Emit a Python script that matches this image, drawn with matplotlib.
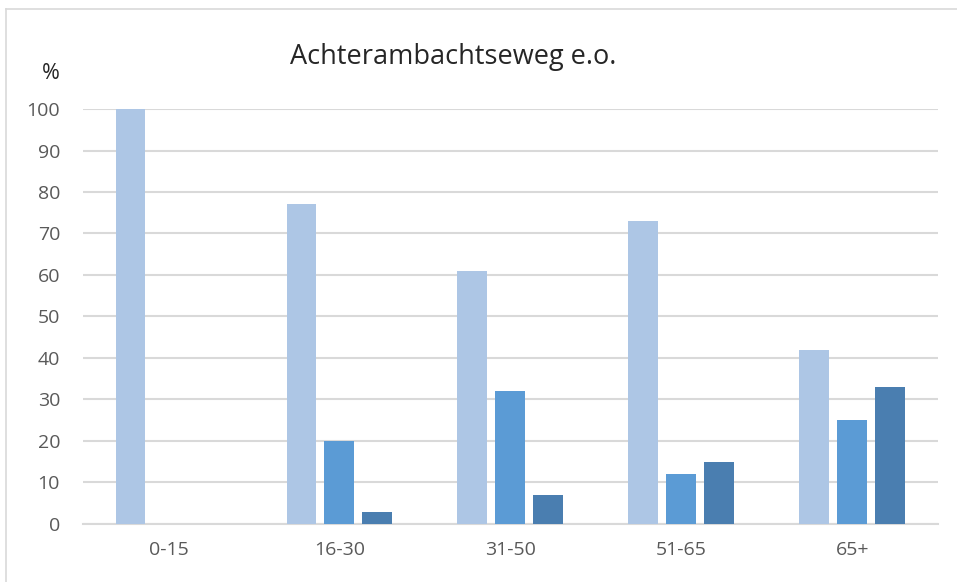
import numpy as np
import matplotlib
matplotlib.use('Agg')
import matplotlib.pyplot as plt
from matplotlib.lines import Line2D

plt.rcParams['font.family'] = ['Open Sans', 'DejaVu Sans']

# data
categories = ['0-15', '16-30', '31-50', '51-65', '65+']
series_a = [100, 77, 61, 73, 42]
series_b = [0, 20, 32, 12, 25]
series_c = [0, 3, 7, 15, 33]
colors = ['#adc6e5', '#5b9bd5', '#4a7eb0']

fig = plt.figure(figsize=(9.57, 5.82), dpi=100)
ax = fig.add_axes([0.0867, 0.0997, 0.8933, 0.713])

x = np.arange(len(categories))
w = 0.175
step = 0.222
for i, (vals, c) in enumerate(zip([series_a, series_b, series_c], colors)):
    ax.bar(x + (i - 1) * step, vals, width=w, color=c, zorder=3)

ax.set_xlim(-0.5, len(categories) - 0.5)
ax.set_ylim(0, 100)
ax.set_yticks(range(0, 101, 10))
ax.set_xticks(x)
ax.set_xticklabels(categories)
ax.yaxis.grid(True, color='#d9d9d9', linewidth=1.5, zorder=0)
for s in ['left', 'right', 'top']:
    ax.spines[s].set_visible(False)
ax.spines['bottom'].set_color('#d9d9d9')
ax.spines['bottom'].set_linewidth(1.5)
ax.tick_params(length=0, labelsize=14, colors='#595959')
ax.tick_params(axis='x', pad=12)
ax.tick_params(axis='y', pad=16.5)

fig.text(0.474, 0.902, 'Achterambachtseweg e.o.', ha='center', va='center',
         fontsize=19.5, color='#262626')
fig.text(0.053, 0.874, '%', ha='center', va='center', fontsize=15.5, color='#262626')

# outer chart frame
fig.add_artist(Line2D([6 / 957, 6 / 957], [0, 1 - 9 / 582], transform=fig.transFigure,
                      color='#d9d9d9', linewidth=1.2))
fig.add_artist(Line2D([6 / 957, 1], [1 - 9 / 582, 1 - 9 / 582], transform=fig.transFigure,
                      color='#d9d9d9', linewidth=1.2))

fig.savefig('out.png', dpi=100)
plt.close()
